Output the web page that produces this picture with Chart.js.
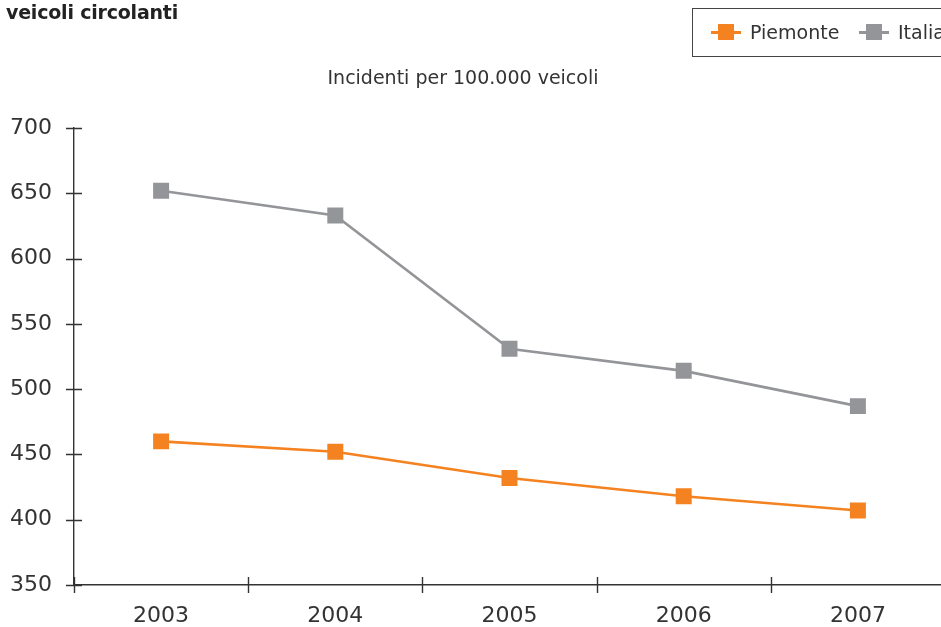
<!DOCTYPE html>
<html>
<head>
<meta charset="utf-8">
<script src="https://cdn.jsdelivr.net/npm/chart.js@4/dist/chart.umd.min.js"></script>
<style>
  html, body { margin: 0; padding: 0; background: #fff; overflow: hidden; width: 941px; height: 627px; }
  body { position: relative; font-family: "DejaVu Sans", sans-serif; color: #333; }
  #wrap { position: absolute; left: 0; top: 0; width: 960px; height: 627px; }
  #header { position: absolute; left: 6px; top: 1px; font-weight: bold; font-size: 19px; color: #222; letter-spacing: -0.2px; }
  #title { position: absolute; left: 0; width: 926px; top: 66px; text-align: center; font-size: 19px; color: #333; }
  #legend { position: absolute; left: 692px; top: 8px; width: 262px; height: 49px; border: 1.5px solid #444; box-sizing: border-box; font-size: 19px; color: #333; }
  .item { position: absolute; top: 0; height: 46px; line-height: 46px; }
  .mk { position: absolute; top: 22px; width: 30px; height: 2.5px; }
  .mk i { position: absolute; left: 7px; top: -7px; width: 16px; height: 16px; }
</style>
</head>
<body>
<div id="wrap"><canvas id="chart" width="960" height="627"></canvas></div>
<div id="header">veicoli circolanti</div>
<div id="title">Incidenti per 100.000 veicoli</div>
<div id="legend"></div>
<script>
// Road accidents per 100,000 circulating vehicles
const years = ['2003', '2004', '2005', '2006', '2007'];
const piemonte = [460, 452, 432, 418, 407];
const italia = [652, 633, 531, 514, 487];
const yTicks = [350, 400, 450, 500, 550, 600, 650, 700];

const ORANGE = '#F58220';
const GREY = '#939598';
const AXIS = '#333333';

const seriesList = [
  { label: 'Piemonte', data: piemonte, color: ORANGE },
  { label: 'Italia', data: italia, color: GREY }
];

// HTML legend in a framed box
const legend = document.getElementById('legend');
const offsets = [[18, 57], [166, 205]];
seriesList.forEach((s, i) => {
  const mk = document.createElement('div');
  mk.className = 'mk';
  mk.style.left = offsets[i][0] + 'px';
  mk.style.background = s.color;
  const sq = document.createElement('i');
  sq.style.background = s.color;
  mk.appendChild(sq);
  legend.appendChild(mk);
  const tx = document.createElement('div');
  tx.className = 'item';
  tx.style.left = offsets[i][1] + 'px';
  tx.textContent = s.label;
  legend.appendChild(tx);
});

// Small tick marks that cross both axes
const crossTicks = {
  id: 'crossTicks',
  afterDraw(chart) {
    const { ctx, scales: { x, y } } = chart;
    const half = 8;
    ctx.save();
    ctx.strokeStyle = AXIS;
    ctx.lineWidth = 1.4;
    ctx.beginPath();
    const yBase = y.bottom;
    for (let i = 0; i <= years.length; i++) {
      const px = Math.round(x.getPixelForValue(i - 0.5)) + 0.5;
      ctx.moveTo(px, yBase - half);
      ctx.lineTo(px, yBase + half);
    }
    const xBase = x.left;
    yTicks.forEach(v => {
      const py = Math.round(y.getPixelForValue(v)) + 0.5;
      ctx.moveTo(xBase - half, py);
      ctx.lineTo(xBase + half, py);
    });
    ctx.stroke();
    ctx.restore();
  }
};

new Chart(document.getElementById('chart'), {
  type: 'line',
  data: {
    labels: years,
    datasets: seriesList.map(s => ({
      label: s.label,
      data: s.data,
      borderColor: s.color,
      backgroundColor: s.color,
      borderWidth: 2.6,
      pointStyle: 'rect',
      pointRadius: 11.3,
      pointHoverRadius: 11.3,
      pointBorderWidth: 0,
      tension: 0
    }))
  },
  options: {
    responsive: false,
    animation: false,
    events: [],
    layout: { padding: { top: 128, right: 15, left: 0, bottom: 0 } },
    plugins: {
      legend: { display: false },
      title: { display: false },
      tooltip: { enabled: false }
    },
    scales: {
      x: {
        type: 'category',
        offset: true,
        grid: { display: false, drawTicks: false, offset: true },
        border: { display: true, color: AXIS, width: 1.4 },
        ticks: {
          color: AXIS,
          padding: 18,
          maxRotation: 0,
          font: { family: 'DejaVu Sans', size: 22 }
        },
        afterFit(scale) { scale.height = 42; }
      },
      y: {
        min: 350,
        max: 700,
        grid: { display: false, drawTicks: false },
        border: { display: true, color: AXIS, width: 1.4 },
        afterBuildTicks(scale) { scale.ticks = yTicks.map(v => ({ value: v })); },
        ticks: {
          color: AXIS,
          padding: 22,
          font: { family: 'DejaVu Sans', size: 22 }
        },
        afterFit(scale) { scale.width = 74; }
      }
    }
  },
  plugins: [crossTicks]
});
</script>
</body>
</html>
